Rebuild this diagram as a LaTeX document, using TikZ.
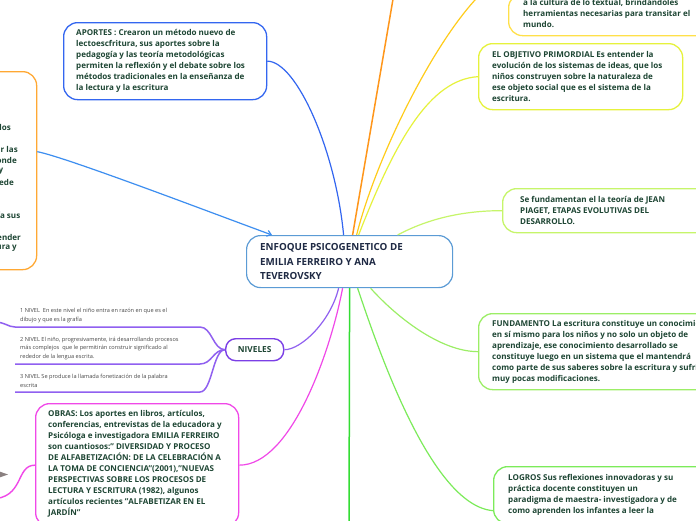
\documentclass[tikz,border=0pt]{standalone}
\usepackage{fontspec}
\setmainfont{Open Sans}
\usetikzlibrary{arrows.meta}
\definecolor{txtc}{HTML}{1E4634}
\definecolor{ctxt}{HTML}{1F2A44}
\definecolor{cblue}{HTML}{5B9BD5}
\definecolor{ablue}{HTML}{3366F0}
\definecolor{arrblue}{HTML}{3D8EF0}
\definecolor{orng}{HTML}{FFA833}
\definecolor{orline}{HTML}{FF961A}
\definecolor{gold}{HTML}{FFE04A}
\definecolor{goldline}{HTML}{FFCC1A}
\definecolor{limey}{HTML}{E6F23C}
\definecolor{lgreen}{HTML}{C6F56A}
\definecolor{mgreen}{HTML}{9CEE66}
\definecolor{logg}{HTML}{7CEB5A}
\definecolor{vgreen}{HTML}{33DD33}
\definecolor{magen}{HTML}{F048E8}
\definecolor{purp}{HTML}{7B3FE6}
\definecolor{purpl}{HTML}{9060F0}
\definecolor{grayicon}{HTML}{8A8080}
\begin{document}
\begin{tikzpicture}[x=1pt,y=-1pt,
  box/.style={draw,line width=1.3pt,rounded corners=14pt,fill=white,inner sep=0pt,anchor=north west},
  conn/.style={line width=1.2pt},
  bodytext/.style={anchor=west,inner sep=0pt,align=left,text=txtc,font=\fontsize{8.05}{11}\selectfont\bfseries},
  lvltext/.style={anchor=west,inner sep=0pt,align=left,text=black!72,font=\fontsize{5.6}{8.7}\selectfont},
  frag/.style={anchor=east,inner sep=0pt,text=txtc,font=\fontsize{8.05}{11}\selectfont\bfseries},
  uline/.style={purpl,line width=1.5pt}]
\useasboundingbox (0,0) rectangle (696,520);
\clip (0,0) rectangle (696,520);
\fill[white] (0,0) rectangle (696,520);

% off-screen ends
\coordinate (offor) at (398,-30);
\coordinate (offbot) at (349,540);
\coordinate (offml) at (-10,499);
\coordinate (offpl) at (-6,322);

% boxes
\node[box,draw=ablue,minimum width=203pt,minimum height=77pt] (apo) at (63,22) {};
\node[box,draw=orng,minimum width=206pt,minimum height=198pt] (orb) at (-170,71) {};
\node[box,draw=gold,minimum width=260pt,minimum height=42pt] (trb) at (508,-7) {};
\node[box,draw=limey,minimum width=204pt,minimum height=66pt] (obj) at (478,43) {};
\node[box,draw=lgreen,minimum width=240pt,minimum height=44pt] (sef) at (502,188) {};
\node[box,draw=mgreen,minimum width=300pt,minimum height=76pt] (fnd) at (478,313) {};
\node[box,draw=logg,minimum width=240pt,minimum height=57pt] (lgr) at (493,466) {};
\node[box,draw=magen,minimum width=203pt,minimum height=123pt] (obr) at (35,403) {};
\node[box,draw=cblue,line width=1.2pt,minimum width=206pt,minimum height=52pt] (cen) at (246,235) {};
\node[box,draw=purp,line width=1.4pt,rounded corners=10pt,minimum width=58pt,minimum height=22pt,
      text=txtc,font=\fontsize{8.3}{9}\selectfont\bfseries] (niv) at (225,338) {NIVELES};

% texts
\node[bodytext] (apot) at (76,60.5) {APORTES : Crearon un método nuevo de\\
lectoescfritura, sus aportes sobre la\\
pedagogía y las teoría metodológicas\\
permiten la reflexión y el debate sobre los\\
métodos tradicionales en la enseñanza de\\
la lectura y la escritura};

\node[bodytext] (trt) at (523,13.5) {a la cultura de lo textual, brindándoles\\
herramientas necesarias para transitar el\\
mundo.};

\node[bodytext] (objt) at (492,76.5) {EL OBJETIVO PRIMORDIAL Es entender la\\
evolución de los sistemas de ideas, que los\\
niños construyen sobre la naturaleza de\\
ese objeto social que es el sistema de la\\
escritura.};

\node[bodytext] (seft) at (520,210) {Se fundamentan el la teoría de JEAN\\
PIAGET, ETAPAS EVOLUTIVAS DEL\\
DESARROLLO.};

\node[bodytext] (fndt) at (492,351.5) {FUNDAMENTO La escritura constituye un conocimiento\\
en sí mismo para los niños y no solo un objeto de\\
aprendizaje, ese conocimiento desarrollado se\\
constituye luego en un sistema que el mantendrá\\
como parte de sus saberes sobre la escritura y sufrirá\\
muy pocas modificaciones.};

\node[bodytext] (lgrt) at (508,494.5) {LOGROS Sus reflexiones innovadoras y su\\
práctica docente constituyen un\\
paradigma de maestra- investigadora y de\\
como aprenden los infantes a leer la};

\node[bodytext] (obrt) at (48,464) {OBRAS: Los aportes en libros, artículos,\\
conferencias, entrevistas de la educadora y\\
Psicóloga e investigadora EMILIA FERREIRO\\
son cuantiosos:" DIVERSIDAD Y PROCESO\\
DE ALFABETIZACIÓN: DE LA CELEBRACIÓN A\\
LA TOMA DE CONCIENCIA"(2001),"NUEVAS\\
PERSPECTIVAS SOBRE LOS PROCESOS DE\\
LECTURA Y ESCRITURA (1982), algunos\\
artículos recientes "ALFABETIZAR EN EL\\
JARDÍN"};

\node[anchor=west,inner sep=0pt,align=left,text=ctxt,font=\fontsize{9.8}{14.5}\selectfont\bfseries] (cent) at (260,261.5)
  {ENFOQUE PSICOGENETICO DE\\ EMILIA FERREIRO Y ANA\\ TEVEROVSKY};

% fragments of the cut-off orange box
\node[frag] (f1) at (11,127) {los};
\node[frag] (f2) at (18,149) {r las};
\node[frag] (f3) at (17,160) {onde};
\node[frag] (f4) at (3.5,171) {y};
\node[frag] (f5) at (14,182) {ede};
\node[frag] (f6) at (20.5,215) {ía sus};
\node[frag] (f7) at (21,237) {ender};
\node[frag] (f8) at (17,248) {ura y};

% levels
\node[lvltext] (n1) at (20,315.5) {1 NIVEL\ \ En este nivel el niño entra en razón en que es el\\ dibujo y que es la grafía};
\node[lvltext] (n2) at (20,348.5) {2 NIVEL El niño, progresivamente, irá desarrollando procesos\\ más complejos\ \ que le permitirán construir significado al\\ rededor de la lengua escrita.};
\node[lvltext] (n3) at (20,381) {3 NIVEL Se produce la llamada fonetización de la palabra\\ escrita};
\coordinate (u1a) at (15,327); \coordinate (u1b) at (200,327);
\coordinate (u2a) at (15,364); \coordinate (u2b) at (200,364);
\coordinate (u3a) at (15,392); \coordinate (u3b) at (200,392);
\draw[uline] (offpl) .. controls (5,322) and (8,327) .. (u1a) -- (u1b) .. controls +(12,0) and +(-12,0) .. (niv.west);
\draw[uline] (u2a) -- (u2b) .. controls +(12,0) and +(-12,0) .. (niv.west);
\draw[uline] (u3a) -- (u3b) .. controls +(12,0) and +(-12,0) .. (niv.west);

% connectors from the centre
\draw[conn,ablue] (apo.east) .. controls +(29,0) and +(-8,-85) .. ([xshift=-6pt]cen.north);
\draw[conn,orline,line width=1.5pt] ([xshift=3pt]cen.north) -- (offor);
\draw[conn,goldline] ([xshift=7pt]cen.north) .. controls +(24,-95) and +(-48,16) .. ([yshift=40pt]trb.west);
\draw[conn,limey] ([xshift=9pt]cen.north) .. controls +(37,-95) and +(-48,3) .. (obj.west);
\draw[conn,lgreen] ([xshift=48pt]cen.north) .. controls +(28,-15) and +(-42,0) .. (sef.west);
\draw[conn,mgreen] ([xshift=21pt]cen.south) .. controls +(25,28) and +(-38,0) .. (fnd.west);
\draw[conn,logg] ([xshift=8pt]cen.south) .. controls +(18,53) and +(-63,-5) .. ([yshift=-15.5pt]lgr.west);
\draw[conn,vgreen,line width=1.5pt] (cen.south) -- (offbot);
\draw[conn,purpl] ([xshift=-11pt]cen.south) .. controls +(-8,33) and +(17,0) .. (niv.east);
\draw[conn,magen] ([xshift=-7pt]cen.south) .. controls +(-12,63) and +(52,0) .. (obr.east);
\draw[conn,arrblue,-{Straight Barb[length=4pt,width=6pt]}] ([yshift=19pt]orb.east) .. controls +(30,6) and +(-60,-22) .. ([xshift=26pt]cen.north west);
\draw[conn,magen,line width=1.4pt] (obr.west) .. controls +(-20,0) and +(35,0) .. (offml);

% small cut-off icon at the lower left
\fill[grayicon] (-2,471) -- (8,474.5) -- (-2,478) -- cycle;
\end{tikzpicture}
\end{document}
